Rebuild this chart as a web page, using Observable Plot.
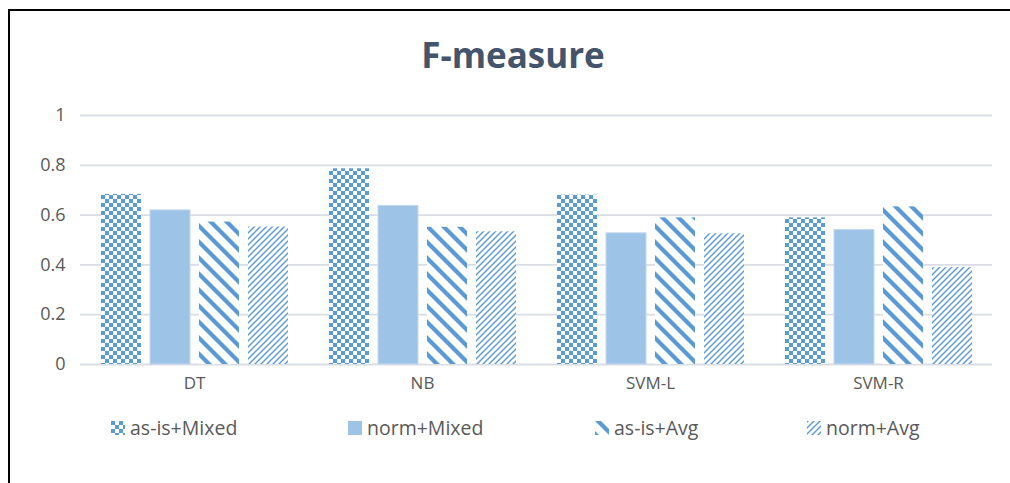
<!DOCTYPE html>
<html>
<head>
<meta charset="utf-8">
<script src="https://cdn.jsdelivr.net/npm/d3@7"></script>
<script src="https://cdn.jsdelivr.net/npm/@observablehq/plot@0.6"></script>
<style>
  html, body { margin: 0; padding: 0; background: #fff; }
  body { width: 1010px; height: 483px; overflow: hidden; position: relative; font-family: "Open Sans", sans-serif; }
  #frame { position: absolute; left: 8px; top: 9px; width: 1100px; height: 600px;
           border-left: 2px solid #000; border-top: 2px solid #000; box-sizing: border-box; pointer-events: none; }
  #title { height: 95px; line-height: 1; text-align: center; color: #44546A; font-weight: bold;
           font-size: 35px; padding-left: 16px; box-sizing: border-box; padding-top: 37px; }
  #legend { position: relative; height: 60px; color: #595959; font-size: 19.5px; }
  .item { position: absolute; top: 15px; display: flex; align-items: center; }
  .item svg { margin-right: 5px; }
</style>
</head>
<body>
<svg width="0" height="0" style="position:absolute">
  <defs>
    <pattern id="pCheck" patternUnits="userSpaceOnUse" width="8" height="8">
      <rect width="8" height="8" fill="#fff"/>
      <rect x="0" y="0" width="4" height="4" fill="#5B9BD5"/>
      <rect x="4" y="4" width="4" height="4" fill="#5B9BD5"/>
    </pattern>
    <pattern id="pWideDown" patternUnits="userSpaceOnUse" width="16" height="16">
      <rect width="16" height="16" fill="#fff"/>
      <polygon points="0,0 6,0 16,10 16,16" fill="#5B9BD5"/>
      <polygon points="0,10 6,16 0,16" fill="#5B9BD5"/>
    </pattern>
    <pattern id="pLightUp" patternUnits="userSpaceOnUse" width="6" height="6">
      <rect width="6" height="6" fill="#fff"/>
      <polygon points="0,6 6,0 6,2 2,6" fill="#5B9BD5"/>
      <polygon points="0,2 2,0 0,0" fill="#5B9BD5"/>
    </pattern>
  </defs>
</svg>
<div id="frame"></div>
<div id="title">F-measure</div>
<div id="chart"></div>
<div id="legend"></div>
<script>
// ---- data ----
const categories = ["DT", "NB", "SVM-L", "SVM-R"];
const series = ["as-is+Mixed", "norm+Mixed", "as-is+Avg", "norm+Avg"];
const asIsMixed = [0.683, 0.786, 0.680, 0.589];
const normMixed = [0.619, 0.637, 0.527, 0.540];
const asIsAvg   = [0.572, 0.551, 0.589, 0.633];
const normAvg   = [0.552, 0.533, 0.525, 0.389];
const yTicks = [0, 0.2, 0.4, 0.6, 0.8, 1];
const yTickLabels = ["0", "0.2", "0.4", "0.6", "0.8", "1"];

const seriesValues = [asIsMixed, normMixed, asIsAvg, normAvg];
const fills = {
  "as-is+Mixed": "url(#pCheck)",
  "norm+Mixed": "#9DC3E6",
  "as-is+Avg": "url(#pWideDown)",
  "norm+Avg": "url(#pLightUp)"
};
const table = [];
categories.forEach((c, i) => series.forEach((s, j) => table.push({cat: c, ser: s, v: seriesValues[j][i]})));

const chart = Plot.plot({
  width: 1010,
  height: 304,
  marginTop: 20,
  marginBottom: 35,
  marginLeft: 79,
  marginRight: 18,
  style: {fontFamily: "Open Sans, sans-serif", fontSize: "16px", color: "#595959", background: "transparent"},
  fx: {domain: categories, padding: 0, label: null, axis: null},
  x: {domain: series, axis: null, paddingInner: 0.19, paddingOuter: 0.403},
  y: {domain: [0, 1], label: null, axis: null},
  marks: [
    Plot.ruleY(yTicks, {stroke: "#dadde3", strokeWidth: 1.8, strokeOpacity: 1}),
    Plot.barY(table, {fx: "cat", x: "ser", y: "v",
      fill: d => fills[d.ser],
      stroke: d => d.ser === "norm+Mixed" ? "#c3d9ef" : "none",
      strokeWidth: 1}),
    Plot.axisY({ticks: yTicks, tickFormat: (d) => yTickLabels[yTicks.indexOf(d)], tickSize: 0, tickPadding: 15,
      fontSize: 18, fill: "#595959", label: null}),
    Plot.axisFx({anchor: "bottom", tickSize: 0, tickPadding: 12, fontSize: 17, fill: "#595959", label: null})
  ]
});
document.getElementById("chart").appendChild(chart);

// legend
const legendPos = [111, 348, 595, 807];
const swatchFill = ["url(#pCheck)", "#9DC3E6", "url(#pWideDown)", "url(#pLightUp)"];
const legend = d3.select("#legend");
series.forEach((s, i) => {
  const it = legend.append("div").attr("class", "item").style("left", legendPos[i] + "px");
  const sv = it.append("svg").attr("width", 14).attr("height", 14);
  sv.append("rect").attr("width", 14).attr("height", 14).attr("fill", swatchFill[i]);
  it.append("span").text(s);
});
</script>
</body>
</html>
